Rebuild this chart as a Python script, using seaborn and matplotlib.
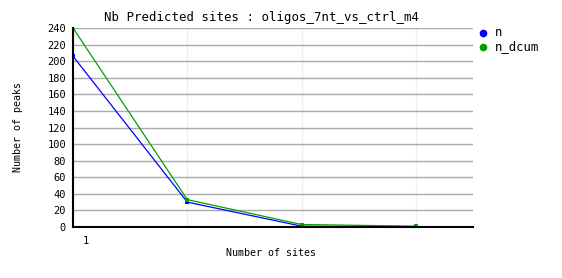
import matplotlib
matplotlib.use("Agg")
import matplotlib.pyplot as plt
import matplotlib.transforms as mtrans
import seaborn as sns
import pandas as pd

sites = [1, 2, 3, 4]
n = [206, 30, 1, 0]
n_dcum = [240, 33, 3, 1]
series_names = ["n", "n_dcum"]
colors = ["#0000ff", "#00a000"]
yticks = list(range(0, 241, 20))
xtick_labels = ["1", "", "", ""]

df = pd.DataFrame({
    "x": sites * 2,
    "y": n + n_dcum,
    "series": [series_names[0]] * len(sites) + [series_names[1]] * len(sites),
})

sns.set_theme(style="white")
plt.rcParams["font.family"] = ["DejaVu Sans Mono", "DejaVu Sans"]
plt.rcParams["text.color"] = "black"
plt.rcParams["xtick.color"] = "black"
plt.rcParams["ytick.color"] = "black"

fig = plt.figure(figsize=(5.62, 2.78), dpi=100)
ax = fig.add_axes([73/562, 1 - 227/278, 400/562, 199/278])

sns.lineplot(data=df, x="x", y="y", hue="series", palette=colors,
             marker="s", markersize=3.5, markeredgewidth=0, linewidth=0.9,
             ax=ax, legend=False)

ax.set_xlim(1, 4.5)
ax.set_ylim(0, 240)
ax.set_yticks(yticks)
ax.set_yticklabels([str(v) for v in yticks], fontsize=7.5)
ax.set_xticks(sites)
ax.set_xticklabels([])
ax.tick_params(axis="both", length=0, pad=5)

# x tick label drawn offset to the right, as in the reference
off = mtrans.ScaledTranslation(13/100, -14/100, fig.dpi_scale_trans)
for xv, lab in zip(sites, xtick_labels):
    if lab:
        ax.text(xv, 0, lab, transform=ax.get_xaxis_transform() + off,
                ha="center", va="center", fontsize=7.5)

ax.grid(axis="y", color="#aaaaaa", linewidth=1)
ax.grid(axis="x", color="#f0f0f0", linewidth=1)
ax.set_axisbelow(True)
for s in ["top", "right"]:
    ax.spines[s].set_visible(False)
ax.spines["left"].set_color("black")
ax.spines["bottom"].set_color("black")
ax.spines["left"].set_linewidth(1.5)
ax.spines["bottom"].set_linewidth(1.5)

ax.set_xlabel("")
ax.set_ylabel("")
fig.text(262/562, 1 - 18/278, "Nb Predicted sites : oligos_7nt_vs_ctrl_m4",
         ha="center", va="center", fontsize=8.9)
fig.text(271/562, 1 - 253/278, "Number of sites", ha="center", va="center", fontsize=7.2)
fig.text(18/562, 1 - 127/278, "Number of peaks", ha="center", va="center",
         fontsize=7.2, rotation=90)

for i, name in enumerate(series_names):
    y = 1 - (33 + 14 * i) / 278
    fig.lines.append(plt.Line2D([483/562], [y], transform=fig.transFigure,
                                marker="o", markersize=4.5, color=colors[i],
                                linestyle="none"))
    fig.text(495/562, y, name, ha="left", va="center", fontsize=8.8)

fig.savefig("out.png", dpi=100)
